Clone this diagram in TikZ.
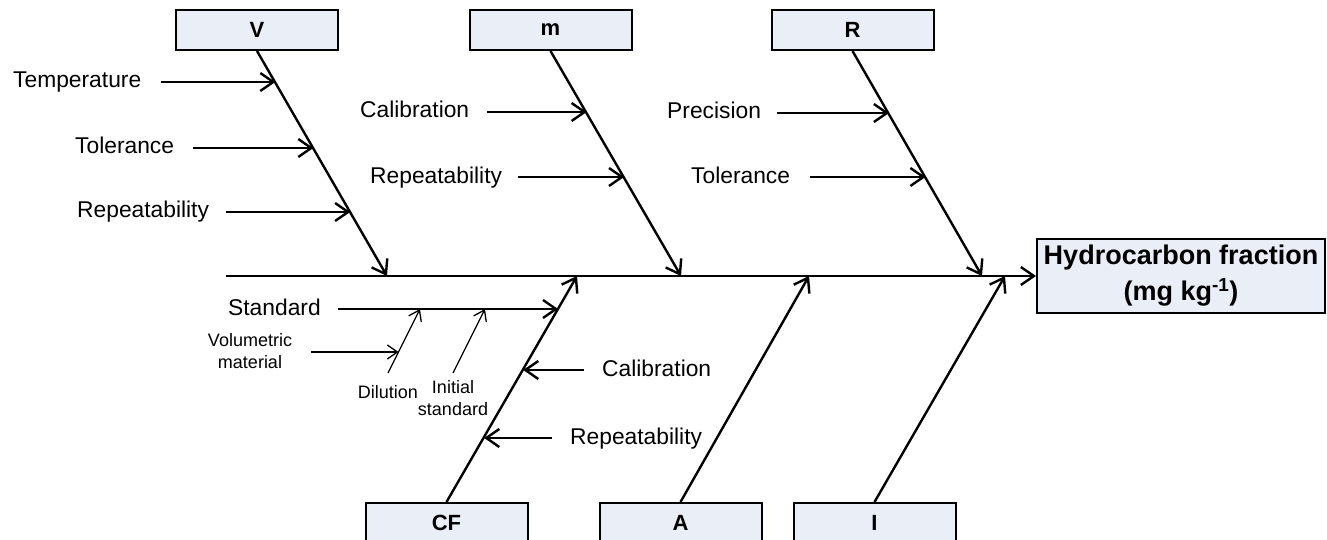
\documentclass[tikz,border=0pt]{standalone}
\usepackage{fontspec}
\setmainfont{Liberation Sans}
\usetikzlibrary{arrows.meta}
\definecolor{boxfill}{RGB}{234,238,247}
\begin{document}
\begin{tikzpicture}[x=1pt,y=-1pt,
  box/.style={draw, line width=2pt, fill=boxfill, minimum width=162pt, minimum height=40pt, inner sep=0pt, font=\fontsize{22}{26}\selectfont\bfseries},
  headbox/.style={draw, line width=2pt, fill=boxfill, minimum width=288pt, minimum height=74pt, inner sep=0pt, align=center, font=\fontsize{27}{36}\selectfont\bfseries},
  arr/.style={line width=2.4pt, -{Straight Barb[length=13pt,width=18pt]}},
  thinarr/.style={line width=1.3pt, -{Straight Barb[length=10pt,width=14pt]}},
  lab/.style={anchor=base west, inner sep=0pt, font=\fontsize{22.8}{27}\selectfont},
  small/.style={inner sep=0pt, align=center, font=\fontsize{18}{22}\selectfont}]
\clip (0,0) rectangle (1327,540);
\useasboundingbox (0,0) rectangle (1327,540);

% boxes
\node[box] (V) at (257,30) {V};
\node[box] (m) at (550.5,30) {m};
\node[box] (R) at (852.5,30) {R};
\node[box] (CF) at (446.5,523) {CF};
\node[box] (A) at (680.5,523) {A};
\node[box] (I) at (874.5,523) {I};
\node[headbox] (H) at (1181,276) {Hydrocarbon fraction\\(mg kg\textsuperscript{-1})};

% spine
\coordinate (s0) at (226,276);
\coordinate (sV) at (387,276);
\coordinate (sm) at (681,276);
\coordinate (sR) at (982,276);
\coordinate (sCF) at (577,276);
\coordinate (sA) at (809,276);
\coordinate (sI) at (1005,276);
\draw[arr] (s0) -- (H.west);

% main bones
\draw[arr] (V.south) -- (sV);
\draw[arr] (m.south) -- (sm);
\draw[arr] (R.south) -- (sR);
\draw[arr] (CF.north) -- (sCF);
\draw[arr] (A.north) -- (sA);
\draw[arr] (I.north) -- (sI);

% V causes
\node[lab] (tTemp) at (13,88) {Temperature};
\coordinate (aTemp) at (161,82); \coordinate (bTemp) at (275.4,82);
\draw[arr] (aTemp) -- (bTemp);
\node[lab] (tTolV) at (75,154) {Tolerance};
\coordinate (aTolV) at (193,148); \coordinate (bTolV) at (313.4,148);
\draw[arr] (aTolV) -- (bTolV);
\node[lab] (tRepV) at (77,218) {Repeatability};
\coordinate (aRepV) at (226,212); \coordinate (bRepV) at (350.2,212);
\draw[arr] (aRepV) -- (bRepV);

% m causes
\node[lab] (tCalm) at (360,118) {Calibration};
\coordinate (aCalm) at (487,112); \coordinate (bCalm) at (586.7,112);
\draw[arr] (aCalm) -- (bCalm);
\node[lab] (tRepm) at (370,183) {Repeatability};
\coordinate (aRepm) at (518,177); \coordinate (bRepm) at (624.1,177);
\draw[arr] (aRepm) -- (bRepm);

% R causes
\node[lab] (tPrec) at (667,119) {Precision};
\coordinate (aPrec) at (777,113); \coordinate (bPrec) at (889,113);
\draw[arr] (aPrec) -- (bPrec);
\node[lab] (tTolR) at (691,183) {Tolerance};
\coordinate (aTolR) at (810,177); \coordinate (bTolR) at (925.5,177);
\draw[arr] (aTolR) -- (bTolR);

% CF causes
\node[lab] (tStd) at (228,315) {Standard};
\coordinate (aStd) at (338,309); \coordinate (bStd) at (558.1,309);
\draw[arr] (aStd) -- (bStd);
\node[lab] (tCalCF) at (602,376) {Calibration};
\coordinate (aCalCF) at (584,370); \coordinate (bCalCF) at (523.2,370);
\draw[arr] (aCalCF) -- (bCalCF);
\node[lab] (tRepCF) at (570,444) {Repeatability};
\coordinate (aRepCF) at (552,438); \coordinate (bRepCF) at (484.2,438);
\draw[arr] (aRepCF) -- (bRepCF);

% Standard sub-causes
\coordinate (dil0) at (388,373); \coordinate (dil1) at (420,309);
\draw[thinarr] (dil0) -- (dil1);
\coordinate (ini0) at (453,373); \coordinate (ini1) at (485,309);
\draw[thinarr] (ini0) -- (ini1);
\coordinate (vol0) at (311,352); \coordinate (vol1) at (398.5,352);
\draw[thinarr] (vol0) -- (vol1);
\node[small] (tVol) at (250,351) {Volumetric\\material};
\node[small] (tDil) at (388,392) {Dilution};
\node[small] (tIni) at (453,398) {Initial\\standard};
\end{tikzpicture}
\end{document}
